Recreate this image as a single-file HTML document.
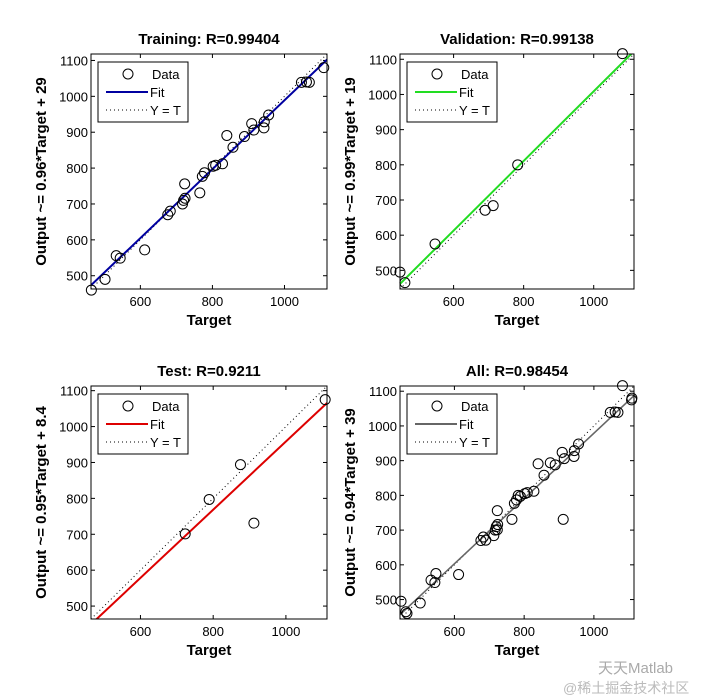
<!DOCTYPE html>
<html><head><meta charset="utf-8">
<style>
html,body{margin:0;padding:0;background:#fff;}
svg{display:block;font-family:"Liberation Sans",Arial,sans-serif;}
</style></head>
<body>
<svg id="fig" width="701" height="700" viewBox="0 0 701 700" xmlns="http://www.w3.org/2000/svg">
<rect width="701" height="700" fill="#fff"/>
<text x="598" y="673" font-size="15" fill="#aaa" font-family="'Liberation Sans','Noto Sans CJK SC',sans-serif">天天Matlab</text>
<text x="563" y="693" font-size="14" fill="#bbb" font-family="'Liberation Sans','Noto Sans CJK SC',sans-serif">@稀土掘金技术社区</text>
</svg>
<script>
const trainTargets=[464,502,533,544,612,676,683,717,723,724,720,765,772,778,802,809,828,840,857,889,909,915,943,944,956,1047,1061,1069,1109];
const trainOutputs=[460,490,556,549,572,670,680,700,756,716,710,731,777,787,805,808,812,891,858,888,924,906,912,929,948,1039,1040,1039,1080];
const valTargets=[447,461,547,690,713,783,1082];
const valOutputs=[495,465,575,671,684,800,1116];
const testTargets=[723,789,875,912,1108];
const testOutputs=[701,797,894,731,1075];
const fitParams={train:[0.96,29],val:[0.99,19],test:[0.95,8.4],all:[0.94,39]};
const tickValues=[600,800,1000];
const yTickValues=[500,600,700,800,900,1000,1100];

const NS='http://www.w3.org/2000/svg';
const svg=document.getElementById('fig');
function mk(tag,attrs,parent){const e=document.createElementNS(NS,tag);for(const k in attrs)e.setAttribute(k,attrs[k]);(parent||svg).appendChild(e);return e;}

function panel(key,title,ylabel,box,range,tx,ty,color,lw){
  const g=mk('g',{});
  
  
  const [L,T,R,B]=box,[lo,hi]=range;
  const sx=v=>L+(v-lo)/(hi-lo)*(R-L);
  const sy=v=>B-(v-lo)/(hi-lo)*(B-T);
  const clip='clip-'+key;
  const cp=mk('clipPath',{id:clip},g);mk('rect',{x:L,y:T,width:R-L,height:B-T},cp);
  mk('rect',{x:L,y:T,width:R-L,height:B-T,fill:'#fff'},g);
  tickValues.forEach(v=>{
    const x=sx(v);
    mk('line',{x1:x,y1:B,x2:x,y2:B-4,stroke:'#000'},g);
    mk('line',{x1:x,y1:T,x2:x,y2:T+4,stroke:'#000'},g);
    const t=mk('text',{x:x,y:B+17,'font-size':13,'text-anchor':'middle'},g);t.textContent=v;
    
    
  });
  yTickValues.forEach(v=>{
    const y=sy(v);if(y<T-1||y>B+1)return;
    mk('line',{x1:L,y1:y,x2:L+4,y2:y,stroke:'#000'},g);
    mk('line',{x1:R,y1:y,x2:R-4,y2:y,stroke:'#000'},g);
    const t=mk('text',{x:L-3,y:y+5,'font-size':13,'text-anchor':'end'},g);t.textContent=v;
    
    
  });
  const cg=mk('g',{'clip-path':'url(#'+clip+')'},g);
  const yt=mk('line',{x1:sx(lo),y1:sy(lo),x2:sx(hi),y2:sy(hi),stroke:'#000','stroke-dasharray':'1,3','stroke-width':1},cg);
  
  
  const [m,b]=fitParams[key];
  const fl=mk('line',{x1:sx(lo),y1:sy(m*lo+b),x2:sx(hi),y2:sy(m*hi+b),stroke:color,'stroke-width':lw},cg);
  
  
  tx.forEach((v,i)=>{
    const c=mk('circle',{cx:sx(v),cy:sy(ty[i]),r:5,fill:'none',stroke:'#000','stroke-width':1},g);
    
    
  });
  mk('rect',{x:L,y:T,width:R-L,height:B-T,fill:'none',stroke:'#000','stroke-width':1},g);
  const lx=L+7,ly=T+8;
  const lg=mk('g',{},g);
  
  
  mk('rect',{x:lx,y:ly,width:90,height:60,fill:'#fff',stroke:'#000'},lg);
  mk('circle',{cx:lx+30,cy:ly+12,r:5,fill:'none',stroke:'#000'},lg);
  mk('line',{x1:lx+8,y1:ly+30,x2:lx+50,y2:ly+30,stroke:color,'stroke-width':2},lg);
  mk('line',{x1:lx+8,y1:ly+48,x2:lx+50,y2:ly+48,stroke:'#000','stroke-dasharray':'1,3'},lg);
  [['Data',17],['Fit',35],['Y = T',53]].forEach(([s,dy],i)=>{
    const t=mk('text',{x:lx+(i==0?54:52),y:ly+dy,'font-size':13},lg);t.textContent=s;
    
    
  });
  const tt=mk('text',{x:(L+R)/2,y:T-10,'font-size':15,'font-weight':'bold','text-anchor':'middle'},g);tt.textContent=title;
  
  
  const xl=mk('text',{x:(L+R)/2,y:B+36,'font-size':15,'font-weight':'bold','text-anchor':'middle'},g);xl.textContent='Target';
  
  
  const yx=L-45,yy=(T+B)/2;
  const yl=mk('text',{x:yx,y:yy,'font-size':15,'font-weight':'bold','text-anchor':'middle',transform:`rotate(-90 ${yx} ${yy})`},g);yl.textContent=ylabel;
  
  
}
const allT=trainTargets.concat(valTargets,testTargets);
const allO=trainOutputs.concat(valOutputs,testOutputs);
panel('train','Training: R=0.99404','Output ~= 0.96*Target + 29',[91,54,327,289],[463,1118],trainTargets,trainOutputs,'#0000a0',2);
panel('val','Validation: R=0.99138','Output ~= 0.99*Target + 19',[400,54,634,289],[447,1115],valTargets,valOutputs,'#22dd22',2);
panel('test','Test: R=0.9211','Output ~= 0.95*Target + 8.4',[91,386,327,619],[464,1113],testTargets,testOutputs,'#dd0000',2);
panel('all','All: R=0.98454','Output ~= 0.94*Target + 39',[400,386,634,619],[444,1115],allT,allO,'#666666',1.6);
</script>
</body></html>
